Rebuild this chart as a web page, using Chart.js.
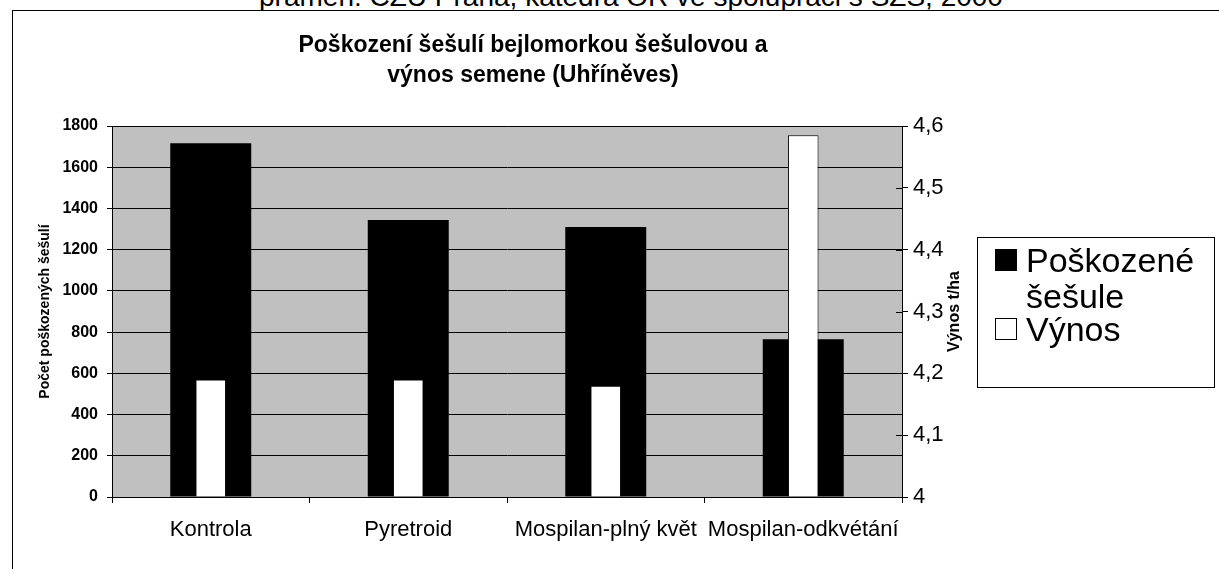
<!DOCTYPE html>
<html lang="cs">
<head>
<meta charset="utf-8">
<title>Poškození šešulí bejlomorkou šešulovou a výnos semene</title>
<script src="https://cdn.jsdelivr.net/npm/chart.js@4.4.1/dist/chart.umd.min.js"></script>
<style>
  html, body { margin: 0; padding: 0; background: #fff; overflow: hidden; }
  #page { position: relative; width: 1219px; height: 569px; overflow: hidden; }
  #source {
    position: absolute; left: 0; width: 1262px; top: -19px; text-align: center; line-height: 28px;
    font: 28px "Liberation Sans", Arial, sans-serif; color: #000; white-space: nowrap;
  }
  #frame {
    position: absolute; left: 12px; top: 10px; width: 1300px; height: 700px;
    border: 1px solid #000; box-sizing: border-box; background: #fff;
  }
  #wrap { position: absolute; left: 0; top: 0; width: 1219px; height: 569px; }
</style>
</head>
<body>
<div id="page">
  <div id="source">pramen: ČZU Praha, katedra OR ve spolupráci s ŠZS, 2000</div>
  <div id="frame"></div>
  <div id="wrap"><canvas id="chart"></canvas></div>
</div>
<script>
const FONT = '"Liberation Sans", Arial, sans-serif';

const chartTitle = ['Poškození šešulí bejlomorkou šešulovou a', 'výnos semene (Uhříněves)'];
const categories = ['Kontrola', 'Pyretroid', 'Mospilan-plný květ', 'Mospilan-odkvétání'];
const damagedPods = [1716, 1344, 1310, 765];
const seedYield = [4.19, 4.19, 4.18, 4.585];
const yieldTickLabels = ['4', '4,1', '4,2', '4,3', '4,4', '4,5', '4,6'];

// gray plot area, title, right axis title and the boxed legend
const decor = {
  id: 'decor',
  beforeDraw(chart) {
    const { ctx, chartArea: a } = chart;
    ctx.save();
    ctx.fillStyle = '#c0c0c0';
    ctx.fillRect(a.left, a.top, a.right - a.left, a.bottom - a.top);
    ctx.restore();
  },
  afterDraw(chart) {
    const { ctx, chartArea: a } = chart;
    ctx.save();
    // right axis ticks cross the axis line
    ctx.strokeStyle = '#000';
    ctx.lineWidth = 1;
    chart.scales.y1.ticks.forEach((t) => {
      const py = Math.round(chart.scales.y1.getPixelForValue(t.value)) + 0.5;
      ctx.beginPath();
      ctx.moveTo(a.right - 6, py);
      ctx.lineTo(a.right, py);
      ctx.stroke();
    });

    ctx.fillStyle = '#000';
    ctx.textAlign = 'center';
    ctx.textBaseline = 'middle';
    ctx.font = 'bold 23px ' + FONT;
    chartTitle.forEach((line, i) => ctx.fillText(line, 533, 46 + i * 30));

    // right axis title reads bottom to top
    ctx.font = 'bold 16px ' + FONT;
    ctx.translate(955, (a.top + a.bottom) / 2);
    ctx.rotate(-Math.PI / 2);
    ctx.fillText('Výnos t/ha', 0, 0);
    ctx.restore();

    // legend
    const box = { x: 977, y: 237, w: 237, h: 150 };
    ctx.save();
    ctx.fillStyle = '#fff';
    ctx.strokeStyle = '#000';
    ctx.lineWidth = 1;
    ctx.fillRect(box.x, box.y, box.w, box.h);
    ctx.strokeRect(box.x + 0.5, box.y + 0.5, box.w, box.h);
    ctx.font = '34px ' + FONT;
    ctx.textAlign = 'left';
    ctx.textBaseline = 'alphabetic';
    const lineH = 36;
    let baseline = box.y + 35;
    chart.data.datasets.forEach((ds) => {
      ctx.fillStyle = ds.backgroundColor;
      ctx.fillRect(995, baseline - 23, 22, 22);
      ctx.strokeStyle = '#000';
      ctx.strokeRect(995.5, baseline - 22.5, 21, 21);
      ctx.fillStyle = '#000';
      // wrap words to the legend box
      const words = ds.label.split(' ');
      let line = '';
      const lines = [];
      words.forEach((w) => {
        const test = line ? line + ' ' + w : w;
        if (line && ctx.measureText(test).width > box.x + box.w - 1026 - 6) {
          lines.push(line);
          line = w;
        } else {
          line = test;
        }
      });
      lines.push(line);
      lines.forEach((l, i) => ctx.fillText(l, 1026, baseline + i * lineH));
      baseline += lines.length * lineH - 3;
    });
    ctx.restore();
  }
};

new Chart(document.getElementById('chart'), {
  type: 'bar',
  data: {
    labels: categories,
    datasets: [
      {
        label: 'Poškozené šešule',
        data: damagedPods,
        yAxisID: 'y',
        backgroundColor: '#000',
        borderWidth: 0,
        grouped: false,
        categoryPercentage: 1,
        barPercentage: 0.41,
        order: 2
      },
      {
        label: 'Výnos',
        data: seedYield,
        yAxisID: 'y1',
        base: 4,
        backgroundColor: '#fff',
        borderColor: '#000',
        borderWidth: 1,
        grouped: false,
        categoryPercentage: 1,
        barPercentage: 0.155,
        order: 1
      }
    ]
  },
  options: {
    responsive: true,
    maintainAspectRatio: false,
    animation: false,
    layout: { padding: { left: 20, right: 237, top: 126, bottom: 22 } },
    plugins: {
      legend: { display: false },
      title: { display: false },
      tooltip: { enabled: false }
    },
    scales: {
      x: {
        grid: { drawOnChartArea: false, color: '#000', tickLength: 6, offset: true },
        border: { color: '#000' },
        ticks: { color: '#000', font: { family: FONT, size: 22 }, padding: 14, maxRotation: 0, autoSkip: false },
        afterFit: (s) => { s.height = 50; }
      },
      y: {
        position: 'left',
        min: 0,
        max: 1800,
        ticks: {
          stepSize: 200,
          color: '#000',
          font: { family: FONT, size: 16, weight: 'bold' },
          padding: 9,
          callback: (v) => String(v)
        },
        grid: { color: '#000', tickLength: 5 },
        border: { color: '#000' },
        title: {
          display: true,
          text: 'Počet poškozených šešulí',
          color: '#000',
          font: { family: FONT, size: 14, weight: 'bold' },
          padding: { top: 17, bottom: 0 }
        },
        afterFit: (s) => { s.width = 92; }
      },
      y1: {
        position: 'right',
        min: 4,
        max: 4.6,
        ticks: {
          stepSize: 0.1,
          color: '#000',
          font: { family: FONT, size: 22 },
          padding: 5,
          callback: (v, i) => yieldTickLabels[i]
        },
        grid: { drawOnChartArea: false, color: '#000', tickLength: 6 },
        border: { color: '#000' },
        afterFit: (s) => { s.width = 80; }
      }
    }
  },
  plugins: [decor]
});
</script>
</body>
</html>
